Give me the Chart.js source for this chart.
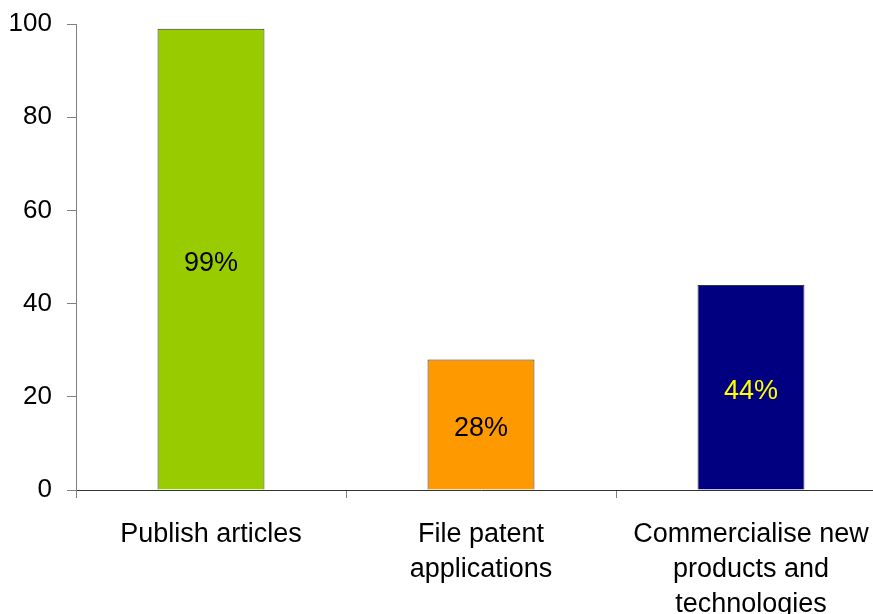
<!DOCTYPE html>
<html>
<head>
<meta charset="utf-8">
<script src="https://cdn.jsdelivr.net/npm/chart.js@4.4.1/dist/chart.umd.min.js"></script>
<style>
  html, body { margin: 0; padding: 0; background: #fff; overflow: hidden; }
  #wrap { width: 890px; height: 614px; }
</style>
</head>
<body>
<div id="wrap"><canvas id="barChart" width="890" height="614"></canvas></div>
<script>
// categories (multi-line labels) and their values in percent
const categories = [
  ['Publish articles'],
  ['File patent', 'applications'],
  ['Commercialise new', 'products and', 'technologies']
];
const shares = [99, 28, 44];
const barColors = ['#99cc00', '#ff9900', '#000080'];
const valueColors = ['#000000', '#000000', '#ffff00'];
const yTicks = [0, 20, 40, 60, 80, 100];

const FONT = '"Liberation Sans", Arial, sans-serif';

// writes "NN%" in the middle of every bar
const barValues = {
  id: 'barValues',
  afterDatasetsDraw(chart) {
    const c = chart.ctx;
    const meta = chart.getDatasetMeta(0);
    c.save();
    c.font = '27px ' + FONT;
    c.textAlign = 'center';
    c.textBaseline = 'middle';
    meta.data.forEach((bar, i) => {
      c.fillStyle = valueColors[i];
      c.fillText(shares[i] + '%', bar.x, (bar.y + bar.base) / 2 + 4);
    });
    c.restore();
  }
};

const ctx = document.getElementById('barChart').getContext('2d');
const chart = new Chart(ctx, {
  type: 'bar',
  data: {
    labels: categories,
    datasets: [{
      data: shares,
      backgroundColor: barColors,
      borderColor: '#333333',
      borderWidth: 1,
      categoryPercentage: 1,
      barPercentage: 0.396
    }]
  },
  options: {
    responsive: false,
    animation: false,
    layout: { padding: { top: 24, right: 4, left: 0, bottom: 0 } },
    plugins: { legend: { display: false }, tooltip: { enabled: false } },
    scales: {
      x: {
        grid: {
          offset: true,
          drawOnChartArea: false,
          tickLength: 8,
          color: '#808080'
        },
        border: { color: '#333333', width: 1 },
        ticks: {
          color: '#000',
          padding: 19,
          maxRotation: 0,
          autoSkip: false,
          font: { family: FONT, size: 27, lineHeight: 1.3 }
        },
        afterFit(s) { s.height = 124; }
      },
      y: {
        min: 0,
        max: 100,
        afterBuildTicks(s) { s.ticks = yTicks.map(v => ({ value: v })); },
        grid: {
          drawOnChartArea: false,
          tickLength: 9,
          color: '#808080'
        },
        border: { color: '#808080', width: 1 },
        ticks: {
          color: '#000',
          padding: 15,
          font: { family: FONT, size: 26 }
        },
        afterFit(s) {
          s.width = 76;
          s.paddingTop = 0;
          s.paddingBottom = 0;
        }
      }
    }
  },
  plugins: [barValues]
});
</script>
</body>
</html>
